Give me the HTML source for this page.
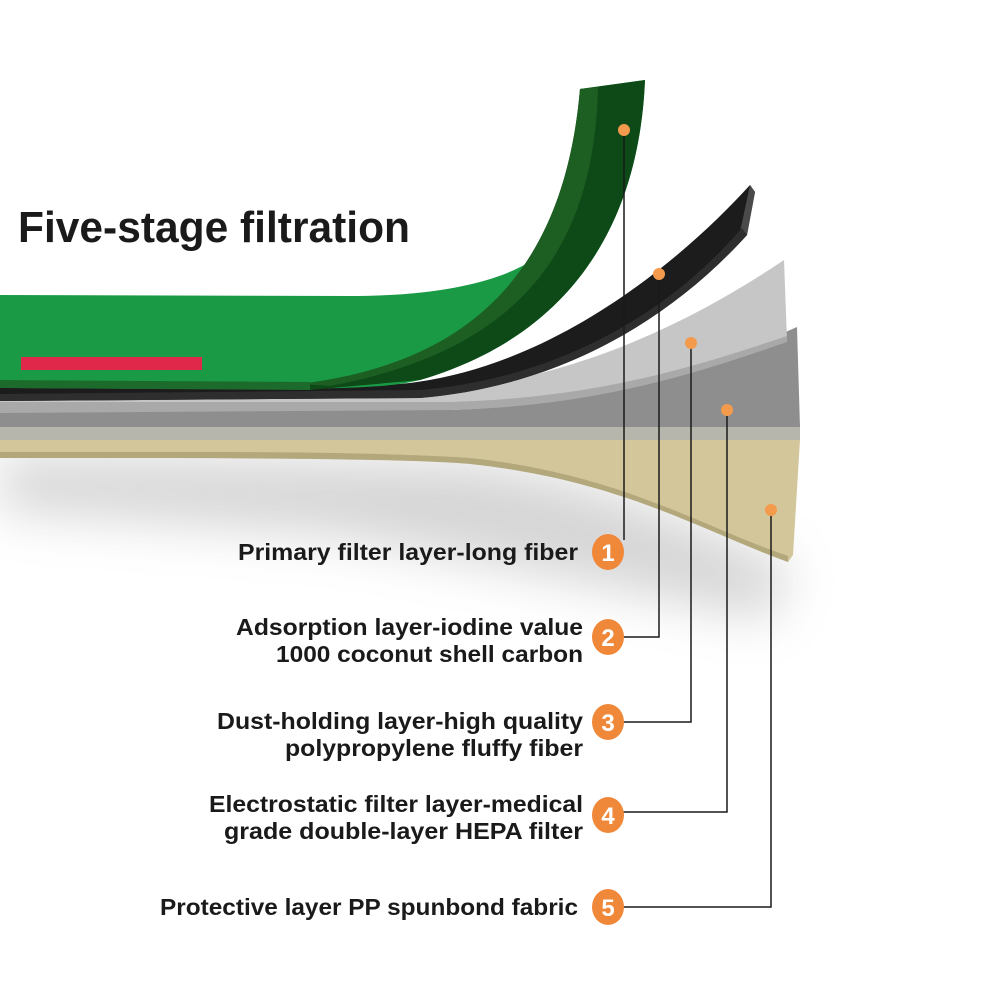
<!DOCTYPE html>
<html><head><style>
html,body{margin:0;padding:0;background:#fff;}
svg{display:block;}
text{font-family:"Liberation Sans",sans-serif;fill:#1a1a1a;}
</style></head><body>
<svg width="1000" height="1000" viewBox="0 0 1000 1000" xmlns="http://www.w3.org/2000/svg">
<defs>
<filter id="b" x="-30%" y="-30%" width="160%" height="160%"><feGaussianBlur stdDeviation="25"/></filter>
</defs>
<rect width="1000" height="1000" fill="#fff"/>
<!-- shadow -->
<path d="M0,455 L470,462 C620,482 700,530 790,565 L770,620 C620,590 480,560 330,535 L0,510 Z" fill="#8a8a8a" opacity="0.35" filter="url(#b)"/>
<!-- tan -->
<path d="M0,440 L800,440 L793,555 L788,562 C700,530 620,478 470,462 C400,456 200,456 0,456 Z" fill="#d3c69a"/>
<path d="M0,452 L200,452 C400,452 470,458 470,458 C620,474 700,526 788,556 L788,562 C700,530 620,480 470,464 C400,458 200,458 0,458 Z" fill="#b3a77c"/>
<!-- grey band -->
<rect x="0" y="425" width="800" height="15" fill="#b6b6ac"/>
<!-- dark grey -->
<path d="M0,410 L450,410 C600,405 700,370 797,327 L800,427 L0,427 Z" fill="#8e8e8e"/>
<!-- light grey -->
<path d="M0,393 L400,392 C550,390 680,330 784,260 L787,340 C700,372 600,404 450,408 L0,412 Z" fill="#c6c6c6"/>
<path d="M0,402 L450,402 C600,398 700,365 787,336 L787,342 C700,372 600,406 450,410 L0,413 Z" fill="#a9a9a9"/>
<!-- black -->
<path d="M0,386 L400,384 C550,370 680,262 750,185 L755,192 L747,235 C670,320 560,386 420,398 L0,401 Z" fill="#1c1c1c"/>
<path d="M750,185 L755,192 L747,235 L740,232 Z" fill="#4a4a4a"/>
<path d="M420,390 C560,378 670,312 742,228 L747,235 C670,320 560,386 420,398 L0,401 L0,394 Z" fill="#2e2e2e"/>
<!-- green -->
<path d="M0,295 L350,296 C470,296 525,270 545,250 C570,210 580,150 580,89 L645,80 C640,200 590,330 420,380 C380,390 330,390 0,388 Z" fill="#1a9a45"/>
<path d="M580,89 L645,80 C640,200 590,330 420,380 L310,390 L300,384 C480,362 565,262 580,89 Z" fill="#0e4a18"/>
<path d="M580,89 L598,87 C594,250 520,350 330,386 L300,384 C480,362 565,262 580,89 Z" fill="#1d5e22"/>
<path d="M0,380 L310,382 L310,390 L0,388 Z" fill="#1d6b2c"/>
<rect x="21" y="357" width="181" height="13" fill="#e0284a"/>
<!-- title -->
<text x="18" y="242" font-size="44" font-weight="bold" textLength="392" lengthAdjust="spacingAndGlyphs">Five-stage filtration</text>
<!-- connectors -->
<g stroke="#1a1a1a" stroke-width="1.5" fill="none">
<path d="M624,130 V540"/>
<path d="M659,274 V637 H622"/>
<path d="M691,343 V722 H622"/>
<path d="M727,410 V812 H622"/>
<path d="M771,510 V907 H622"/>
</g>
<g fill="#f39a4c">
<circle cx="624" cy="130" r="6"/>
<circle cx="659" cy="274" r="6"/>
<circle cx="691" cy="343" r="6"/>
<circle cx="727" cy="410" r="6"/>
<circle cx="771" cy="510" r="6"/>
</g>
<g fill="#f0883a">
<ellipse cx="608" cy="552" rx="16" ry="18"/>
<ellipse cx="608" cy="637" rx="16" ry="18"/>
<ellipse cx="608" cy="722" rx="16" ry="18"/>
<ellipse cx="608" cy="815" rx="16" ry="18"/>
<ellipse cx="608" cy="907" rx="16" ry="18"/>
</g>
<g font-size="24" font-weight="bold" text-anchor="middle">
<text x="608" y="561" style="fill:#fff">1</text>
<text x="608" y="646" style="fill:#fff">2</text>
<text x="608" y="731" style="fill:#fff">3</text>
<text x="608" y="824" style="fill:#fff">4</text>
<text x="608" y="916" style="fill:#fff">5</text>
</g>
<!-- labels -->
<g font-size="23" font-weight="bold">
<text x="238" y="560" textLength="340" lengthAdjust="spacingAndGlyphs">Primary filter layer-long fiber</text>
<text x="236" y="635" textLength="347" lengthAdjust="spacingAndGlyphs">Adsorption layer-iodine value</text>
<text x="276" y="662" textLength="307" lengthAdjust="spacingAndGlyphs">1000 coconut shell carbon</text>
<text x="217" y="729" textLength="366" lengthAdjust="spacingAndGlyphs">Dust-holding layer-high quality</text>
<text x="285" y="756" textLength="298" lengthAdjust="spacingAndGlyphs">polypropylene fluffy fiber</text>
<text x="209" y="812" textLength="374" lengthAdjust="spacingAndGlyphs">Electrostatic filter layer-medical</text>
<text x="224" y="839" textLength="359" lengthAdjust="spacingAndGlyphs">grade double-layer HEPA filter</text>
<text x="160" y="915" textLength="418" lengthAdjust="spacingAndGlyphs">Protective layer PP spunbond fabric</text>
</g>
</svg>
</body></html>
